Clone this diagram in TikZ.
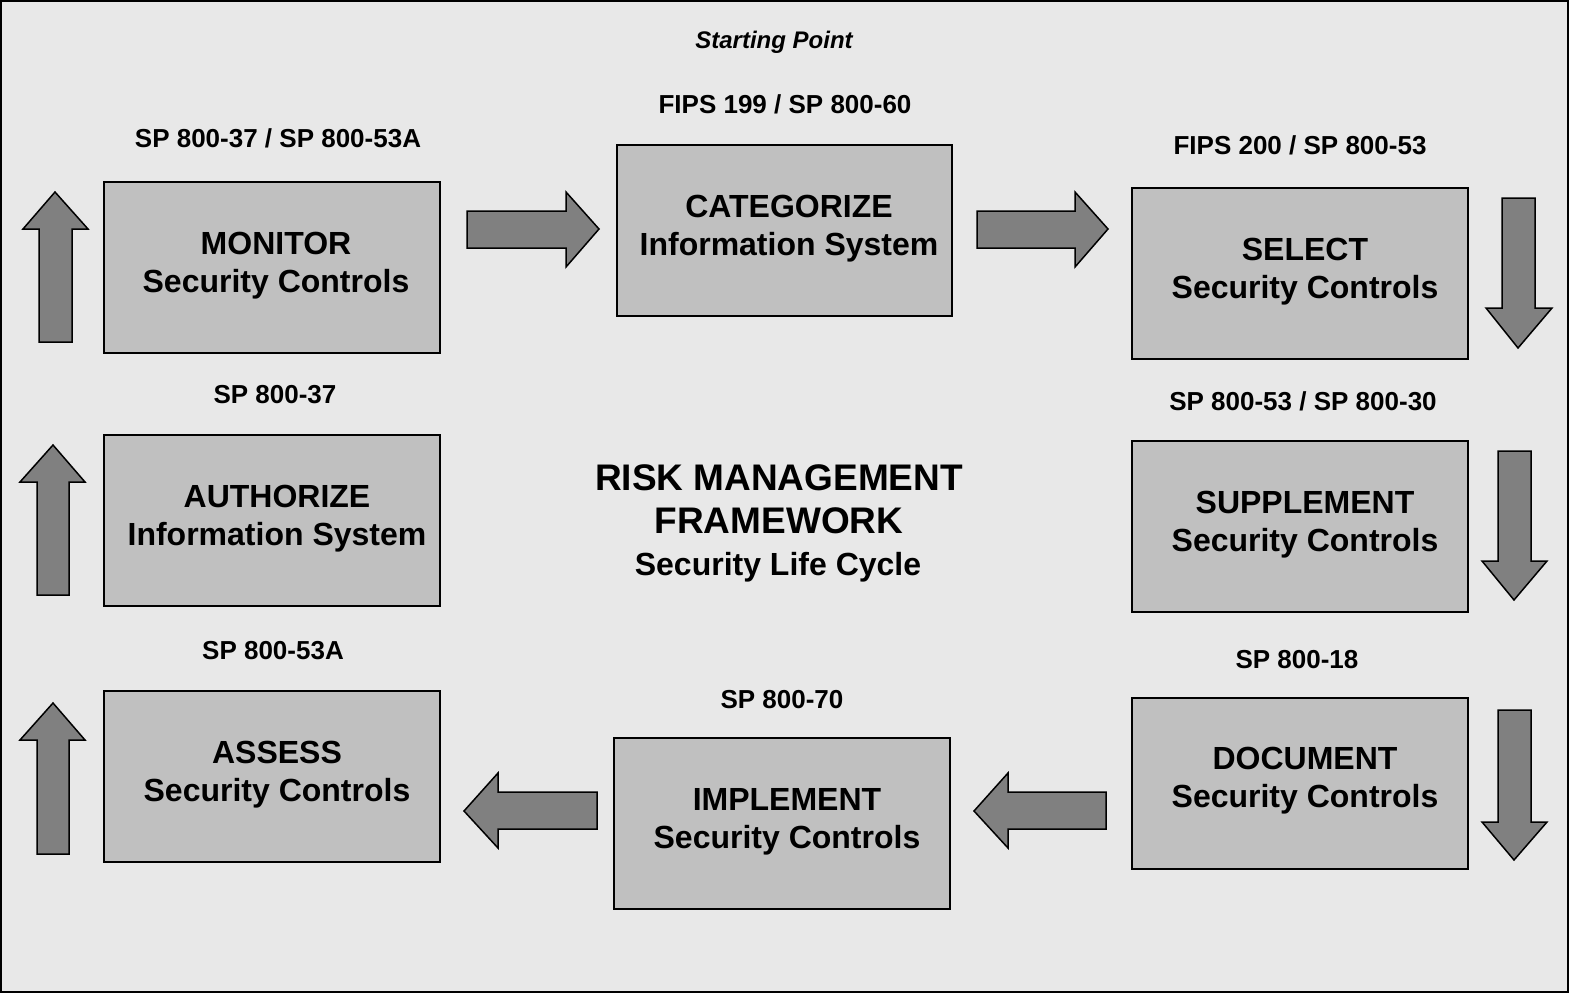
\documentclass[tikz,border=0pt]{standalone}
\usepackage{fontspec}
\setmainfont{Liberation Sans}
\begin{document}
\begin{tikzpicture}[x=1pt,y=-1pt,
  stepbox/.style={draw=black,line width=1.5pt,fill=boxgray},
  boxtext/.style={font=\bfseries\fontsize{32}{38}\selectfont,align=center,inner sep=0pt},
  reflabel/.style={font=\bfseries\fontsize{26}{30}\selectfont,inner sep=0pt},
  bigarrow/.style={draw=black,line width=1.5pt,fill=arrowgray,line join=miter}]
\definecolor{bggray}{HTML}{E8E8E8}
\definecolor{boxgray}{HTML}{C0C0C0}
\definecolor{arrowgray}{HTML}{808080}
\useasboundingbox (0,0) rectangle (1570,994);
\draw[fill=bggray,line width=1.5pt] (1,1) rectangle (1568,992);

% boxes
\draw[stepbox] (104,182) rectangle (440,353);
\node[boxtext] (mon) at (276,266) {MONITOR\\Security Controls};
\draw[stepbox] (617,145) rectangle (952,316);
\node[boxtext] (cat) at (789,229) {CATEGORIZE\\Information System};
\draw[stepbox] (1132,188) rectangle (1468,359);
\node[boxtext] (sel) at (1305,272) {SELECT\\Security Controls};
\draw[stepbox] (104,435) rectangle (440,606);
\node[boxtext] (aut) at (277,519) {AUTHORIZE\\Information System};
\draw[stepbox] (1132,441) rectangle (1468,612);
\node[boxtext] (sup) at (1305,525) {SUPPLEMENT\\Security Controls};
\draw[stepbox] (104,691) rectangle (440,862);
\node[boxtext] (ass) at (277,775) {ASSESS\\Security Controls};
\draw[stepbox] (614,738) rectangle (950,909);
\node[boxtext] (imp) at (787,822) {IMPLEMENT\\Security Controls};
\draw[stepbox] (1132,698) rectangle (1468,869);
\node[boxtext] (doc) at (1305,781) {DOCUMENT\\Security Controls};

% labels
\node[font=\bfseries\itshape\fontsize{24}{28}\selectfont,inner sep=0pt] (start) at (774,42) {Starting Point};
\node[reflabel] (l1) at (785,104) {FIPS 199 / SP 800-60};
\node[reflabel] (l2) at (278,138) {SP 800-37 / SP 800-53A};
\node[reflabel] (l3) at (1300,145) {FIPS 200 / SP 800-53};
\node[reflabel] (l4) at (275,395) {SP 800-37};
\node[reflabel] (l5) at (1303,401) {SP 800-53 / SP 800-30};
\node[reflabel] (l6) at (273,651) {SP 800-53A};
\node[reflabel] (l7) at (782,700) {SP 800-70};
\node[reflabel] (l8) at (1297,660) {SP 800-18};

% title
\node[font=\bfseries\fontsize{37}{43}\selectfont,align=center,inner sep=0pt] (title) at (779,499) {RISK MANAGEMENT\\FRAMEWORK};
\node[font=\bfseries\fontsize{32}{38}\selectfont,inner sep=0pt] (sub) at (778,567) {Security Life Cycle};

% right arrows
\draw[bigarrow] (467,211) -- (566,211) -- (566,192) -- (599,229) -- (566,267) -- (566,248) -- (467,248) -- cycle;
\draw[bigarrow] (977,211) -- (1075,211) -- (1075,192) -- (1108,229) -- (1075,267) -- (1075,248) -- (977,248) -- cycle;
% left arrows
\draw[bigarrow] (597,792) -- (498,792) -- (498,773) -- (464,811) -- (498,848) -- (498,829) -- (597,829) -- cycle;
\draw[bigarrow] (1106,792) -- (1008,792) -- (1008,773) -- (974,811) -- (1008,848) -- (1008,829) -- (1106,829) -- cycle;
% up arrows
\draw[bigarrow] (39,342) -- (39,229) -- (23,229) -- (55,192) -- (88,229) -- (72,229) -- (72,342) -- cycle;
\draw[bigarrow] (37,595) -- (37,482) -- (20,482) -- (53,445) -- (85,482) -- (69,482) -- (69,595) -- cycle;
\draw[bigarrow] (37,854) -- (37,740) -- (20,740) -- (53,703) -- (85,740) -- (69,740) -- (69,854) -- cycle;
% down arrows
\draw[bigarrow] (1502,198) -- (1535,198) -- (1535,308) -- (1552,308) -- (1518,348) -- (1486,308) -- (1502,308) -- cycle;
\draw[bigarrow] (1498,451) -- (1531,451) -- (1531,561) -- (1547,561) -- (1514,600) -- (1482,561) -- (1498,561) -- cycle;
\draw[bigarrow] (1498,710) -- (1531,710) -- (1531,822) -- (1547,822) -- (1514,860) -- (1482,822) -- (1498,822) -- cycle;
\end{tikzpicture}
\end{document}
